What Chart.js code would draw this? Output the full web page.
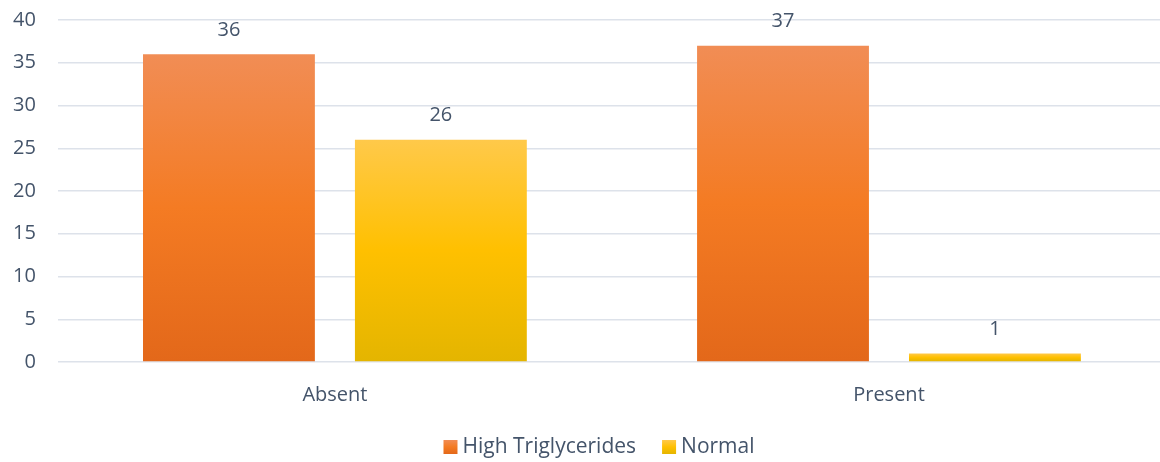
<!DOCTYPE html>
<html>
<head>
<meta charset="utf-8">
<script src="https://cdn.jsdelivr.net/npm/chart.js@4.4.1/dist/chart.umd.min.js"></script>
<style>
  html, body { margin: 0; padding: 0; background: #ffffff; overflow: hidden; }
  #wrap { width: 1198px; height: 462px; }
</style>
</head>
<body>
<div id="wrap"><canvas id="chart" width="1198" height="462"></canvas></div>
<script>
// Categories and series
const categories = ['Absent', 'Present'];
const highTriglycerides = [36, 37];
const normal = [26, 1];
const seriesNames = ['High Triglycerides', 'Normal'];
const yTicks = [0, 5, 10, 15, 20, 25, 30, 35, 40];

const TEXT = '#44546a';
const FONT = '"Open Sans", "DejaVu Sans", sans-serif';

// Vertical gradient stops per series (top -> bottom)
const gradientStops = [
  ['#f18d55', '#f47b23', '#e3681a'],
  ['#ffc94a', '#ffc000', '#e4b500']
];

function makeGradient(ctx, stops, top, bottom) {
  const g = ctx.createLinearGradient(0, top, 0, bottom);
  g.addColorStop(0, stops[0]);
  g.addColorStop(0.5, stops[1]);
  g.addColorStop(1, stops[2]);
  return g;
}

// Paint each bar with a gradient spanning its own height
const barGradients = {
  id: 'barGradients',
  beforeDatasetsDraw(chart) {
    const ctx = chart.ctx;
    chart.data.datasets.forEach((ds, di) => {
      chart.getDatasetMeta(di).data.forEach(bar => {
        const top = Math.min(bar.y, bar.base);
        const bottom = Math.max(bar.y, bar.base);
        bar.options.backgroundColor = makeGradient(ctx, gradientStops[di], top, bottom);
      });
    });
  }
};

// Value labels above each bar
const valueLabels = {
  id: 'valueLabels',
  afterDatasetsDraw(chart) {
    const ctx = chart.ctx;
    ctx.save();
    ctx.font = '20px ' + FONT;
    ctx.fillStyle = TEXT;
    ctx.textAlign = 'center';
    ctx.textBaseline = 'middle';
    chart.data.datasets.forEach((ds, di) => {
      chart.getDatasetMeta(di).data.forEach((bar, i) => {
        ctx.fillText(String(ds.data[i]), bar.x, bar.y - 24);
      });
    });
    ctx.restore();
  }
};

// Legend row under the category labels: shaded swatch followed by the series name
const legendRow = {
  id: 'legendRow',
  afterDraw(chart) {
    const ctx = chart.ctx;
    const box = 14, gap = 5, spacing = 26, centerX = 599, centerY = 447;
    ctx.save();
    ctx.font = '21px ' + FONT;
    const widths = chart.data.datasets.map(ds => ctx.measureText(ds.label).width);
    let total = 0;
    widths.forEach((w, i) => { total += box + gap + w + (i ? spacing : 0); });
    let x = centerX - total / 2;
    ctx.textAlign = 'left';
    ctx.textBaseline = 'middle';
    chart.data.datasets.forEach((ds, i) => {
      const top = centerY - box / 2;
      ctx.fillStyle = makeGradient(ctx, gradientStops[i], top, top + box);
      ctx.fillRect(x, top, box, box);
      x += box + gap;
      ctx.fillStyle = TEXT;
      ctx.fillText(ds.label, x, centerY);
      x += widths[i] + spacing;
    });
    ctx.restore();
  }
};

new Chart(document.getElementById('chart'), {
  type: 'bar',
  data: {
    labels: categories,
    datasets: [
      { label: seriesNames[0], data: highTriglycerides, borderWidth: 0,
        backgroundColor: c => gradientStops[c.datasetIndex][1] },
      { label: seriesNames[1], data: normal, borderWidth: 0,
        backgroundColor: c => gradientStops[c.datasetIndex][1] }
    ]
  },
  options: {
    responsive: false,
    animation: false,
    devicePixelRatio: 1,
    layout: { padding: { left: -9, right: 32, top: 20, bottom: 52 } },
    datasets: {
      bar: { categoryPercentage: 0.765, barPercentage: 0.811 }
    },
    scales: {
      x: {
        grid: { display: false },
        border: { display: false },
        ticks: { color: TEXT, font: { family: FONT, size: 20 }, padding: 13 },
        afterFit(scale) { scale.height = 48; }
      },
      y: {
        min: 0,
        max: 40,
        afterBuildTicks(scale) { scale.ticks = yTicks.map(v => ({ value: v })); },
        afterFit(scale) { scale.paddingTop = 0; scale.paddingBottom = 0; },
        grid: { color: '#dde2ea', lineWidth: 1.5, drawTicks: false },
        border: { display: false },
        ticks: { color: TEXT, font: { family: FONT, size: 20 }, padding: 22 }
      }
    },
    plugins: {
      legend: { display: false },
      tooltip: { enabled: false }
    }
  },
  plugins: [barGradients, valueLabels, legendRow]
});
</script>
</body>
</html>
